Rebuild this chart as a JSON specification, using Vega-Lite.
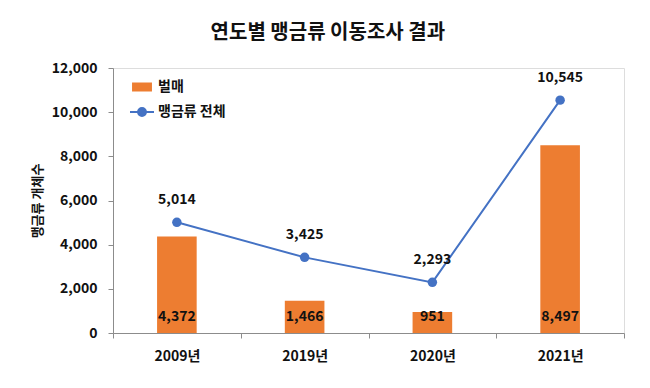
{
  "$schema": "https://vega.github.io/schema/vega-lite/v6.json",
  "autosize": {"type": "none"},
  "width": 511,
  "height": 265,
  "padding": {"left": 113, "top": 68, "right": 26, "bottom": 55},
  "background": "white",
  "title": {
    "text": "연도별 맹금류 이동조사 결과",
    "font": "Noto Sans CJK KR",
    "fontSize": 20,
    "fontWeight": "bold",
    "color": "#111111",
    "anchor": "middle",
    "frame": "bounds",
    "offset": 18
  },
  "data": {
    "values": [
      {"year": "2009년", "beolmae": 4372, "total": 5014},
      {"year": "2019년", "beolmae": 1466, "total": 3425},
      {"year": "2020년", "beolmae": 951, "total": 2293},
      {"year": "2021년", "beolmae": 8497, "total": 10545}
    ]
  },
  "encoding": {
    "x": {
      "field": "year",
      "type": "nominal",
      "sort": null,
      "scale": {"paddingInner": 0, "paddingOuter": 0},
      "axis": {
        "title": null,
        "labelAngle": 0,
        "tickBand": "extent",
        "domainColor": "#8c8c8c",
        "tickColor": "#8c8c8c",
        "tickSize": 5,
        "labelFont": "Noto Sans CJK KR",
        "labelFontSize": 14,
        "labelFontWeight": "bold",
        "labelColor": "#111111",
        "labelPadding": 11
      }
    }
  },
  "layer": [
    {
      "mark": {"type": "bar", "width": {"band": 0.31}},
      "encoding": {
        "y": {
          "field": "beolmae",
          "type": "quantitative",
          "scale": {"domain": [0, 12000]},
          "axis": {
            "title": "맹금류 개체수",
            "titleFont": "Noto Sans CJK KR",
            "titleFontSize": 13,
            "titleFontWeight": "bold",
            "titleColor": "#111111",
            "titlePadding": 7,
            "values": [0, 2000, 4000, 6000, 8000, 10000, 12000],
            "format": ",.0f",
            "grid": false,
            "domainColor": "#8c8c8c",
            "tickColor": "#8c8c8c",
            "tickSize": 5,
            "labelFont": "Noto Sans CJK KR",
            "labelFontSize": 14,
            "labelFontWeight": "bold",
            "labelColor": "#111111",
            "labelPadding": 11
          }
        },
        "color": {
          "datum": "벌매",
          "type": "nominal",
          "scale": {"domain": ["벌매", "맹금류 전체"], "range": ["#ED7D31", "#4472C4"]},
          "legend": {
            "title": null,
            "orient": "none",
            "legendX": 22,
            "legendY": 12,
            "padding": 0,
            "symbolSize": 144,
            "labelOffset": 9,
            "rowPadding": 10,
            "labelFont": "Noto Sans CJK KR",
            "labelFontSize": 14,
            "labelFontWeight": "bold",
            "labelColor": "#111111",
            "encode": {
              "symbols": {
                "update": {
                  "shape": {"signal": "datum.value === '벌매' ? 'M-1.66,-0.75H1.66V0.75H-1.66Z' : 'M-2,0H2M-0.66,0A0.66,0.66 0 1,0 0.66,0A0.66,0.66 0 1,0 -0.66,0Z'"},
                  "fill": {"signal": "datum.value === '벌매' ? '#ED7D31' : '#4472C4'"},
                  "stroke": {"signal": "datum.value === '벌매' ? '#ED7D31' : '#4472C4'"},
                  "strokeWidth": {"signal": "datum.value === '벌매' ? 0 : 2"},
                  "opacity": {"value": 1},
                  "fillOpacity": {"value": 1},
                  "strokeOpacity": {"value": 1}
                }
              }
            }
          }
        }
      }
    },
    {
      "mark": {"type": "line", "strokeWidth": 2},
      "encoding": {
        "y": {"field": "total", "type": "quantitative"},
        "color": {"datum": "맹금류 전체", "type": "nominal"}
      }
    },
    {
      "mark": {"type": "point", "filled": true, "size": 90, "opacity": 1},
      "encoding": {
        "y": {"field": "total", "type": "quantitative"},
        "color": {"datum": "맹금류 전체", "type": "nominal"}
      }
    },
    {
      "mark": {"type": "text", "dy": -22, "baseline": "middle", "font": "Noto Sans CJK KR", "fontSize": 14, "fontWeight": "bold", "color": "#111111"},
      "encoding": {
        "y": {"field": "total", "type": "quantitative"},
        "text": {"field": "total", "type": "quantitative", "format": ","}
      }
    },
    {
      "mark": {"type": "text", "dy": -16, "baseline": "middle", "font": "Noto Sans CJK KR", "fontSize": 14, "fontWeight": "bold", "color": "#111111"},
      "encoding": {
        "y": {"datum": 0, "type": "quantitative"},
        "text": {"field": "beolmae", "type": "quantitative", "format": ","}
      }
    }
  ]
}
